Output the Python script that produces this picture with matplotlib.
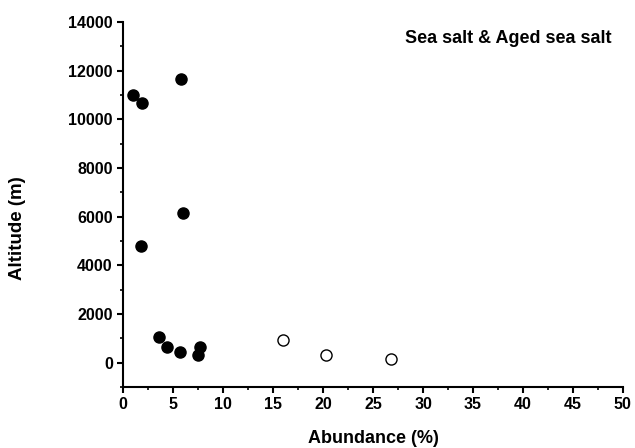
import matplotlib
matplotlib.use('Agg')
import matplotlib.pyplot as plt
from matplotlib.ticker import MultipleLocator

plt.rcParams['font.family'] = ['Liberation Sans', 'DejaVu Sans']
plt.rcParams['font.weight'] = 'bold'

# sea salt (filled)
sea_abund = [1.0, 1.9, 5.8, 6.0, 1.8, 3.6, 4.4, 5.7, 7.5, 7.7]
sea_alt = [11000, 10650, 11660, 6160, 4790, 1040, 660, 430, 300, 630]

# aged sea salt (open)
aged_abund = [16.0, 20.3, 26.8]
aged_alt = [920, 316, 150]

fig = plt.figure(figsize=(6.35, 4.48), dpi=100)
ax = fig.add_axes([0.194, 0.136, 0.787, 0.815])

ax.plot(sea_abund, sea_alt, 'o', color='black', markersize=8, linestyle='none')
ax.plot(aged_abund, aged_alt, 'o', markerfacecolor='white', markeredgecolor='black',
        markeredgewidth=1.0, markersize=8, linestyle='none')

ax.set_xlim(0, 50)
ax.set_ylim(-1000, 14000)
ax.xaxis.set_major_locator(MultipleLocator(5))
ax.xaxis.set_minor_locator(MultipleLocator(2.5))
ax.set_yticks(range(0, 14001, 2000))
ax.yaxis.set_minor_locator(MultipleLocator(1000))

ax.spines['top'].set_visible(False)
ax.spines['right'].set_visible(False)
for s in ('left', 'bottom'):
    ax.spines[s].set_linewidth(1.5)

ax.tick_params(which='major', direction='out', length=4.5, width=1.5, labelsize=11.5, pad=3)
ax.tick_params(which='minor', direction='out', length=2.5, width=1.2)

ax.set_xlabel('Abundance (%)', fontsize=13, fontweight='bold')
ax.set_ylabel('Altitude (m)', fontsize=13.5, fontweight='bold')
ax.xaxis.set_label_coords(0.5, -0.118)
ax.yaxis.set_label_coords(-0.194, 0.435)

ax.text(0.977, 0.955, 'Sea salt & Aged sea salt', transform=ax.transAxes,
        ha='right', va='center', fontsize=13, fontweight='bold')

fig.savefig('out.png', dpi=100)
